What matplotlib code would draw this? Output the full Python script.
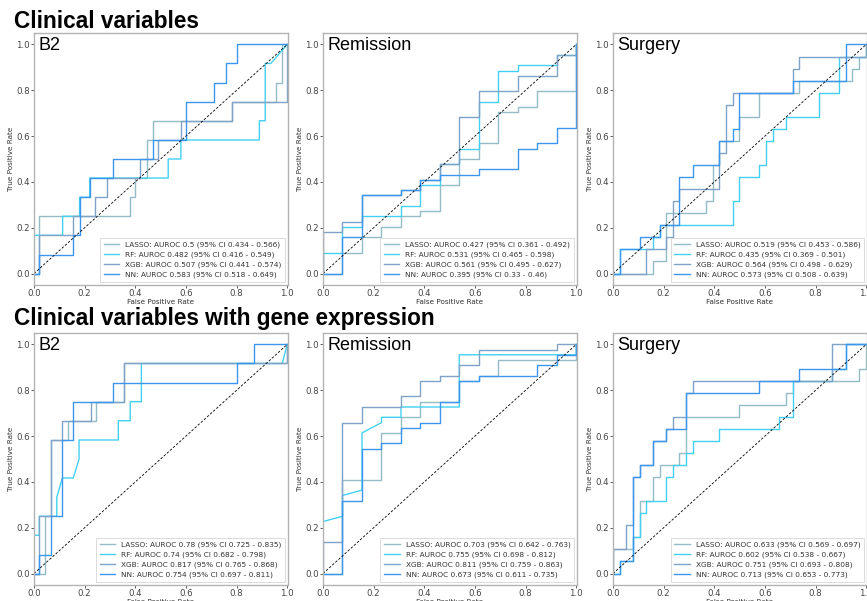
import numpy as np
import matplotlib
matplotlib.use("Agg")
import matplotlib.pyplot as plt

# ---------------------------------------------------------------------------
# ROC curve vertices (fpr, tpr) per outcome and model
# ---------------------------------------------------------------------------
models = ["LASSO", "RF", "XGB", "NN"]
outcomes = ["B2", "Remission", "Surgery"]
colors = ["#93bcc4", "#43d0f0", "#7fa3c6", "#3b96ee"]

# Clinical variables only
clin_b2_lasso = [(0, 0), (0.02, 0), (0.02, 0.25), (0.38, 0.25), (0.38, 0.333), (0.40, 0.333),
                 (0.40, 0.417), (0.445, 0.417), (0.445, 0.583), (0.47, 0.583), (0.47, 0.667),
                 (0.78, 0.667), (0.78, 0.75), (0.955, 0.75), (0.955, 0.833), (0.98, 0.833),
                 (0.98, 1.0), (1, 1)]
clin_b2_rf = [(0, 0), (0, 0.167), (0.113, 0.167), (0.113, 0.25), (0.18, 0.25), (0.18, 0.333),
              (0.22, 0.333), (0.22, 0.417), (0.53, 0.417), (0.53, 0.5), (0.58, 0.5), (0.58, 0.583),
              (0.89, 0.583), (0.89, 0.667), (0.913, 0.667), (0.913, 0.917), (0.935, 0.917), (1, 1)]
clin_b2_xgb = [(0, 0), (0.02, 0), (0.02, 0.167), (0.155, 0.167), (0.155, 0.25), (0.24, 0.25),
               (0.24, 0.333), (0.29, 0.333), (0.29, 0.417), (0.42, 0.417), (0.42, 0.5), (0.49, 0.5),
               (0.49, 0.583), (0.58, 0.583), (0.58, 0.667), (0.78, 0.667), (0.78, 0.75), (1.0, 0.75),
               (1, 1)]
clin_b2_nn = [(0, 0), (0.02, 0), (0.02, 0.083), (0.155, 0.083), (0.155, 0.167), (0.18, 0.167),
              (0.18, 0.333), (0.22, 0.333), (0.22, 0.417), (0.31, 0.417), (0.31, 0.5), (0.47, 0.5),
              (0.47, 0.583), (0.6, 0.583), (0.6, 0.75), (0.71, 0.75), (0.71, 0.833), (0.76, 0.833),
              (0.76, 0.917), (0.80, 0.917), (0.80, 1.0), (1, 1)]

clin_rem_lasso = [(0, 0), (0.077, 0), (0.077, 0.091), (0.154, 0.091), (0.154, 0.159), (0.231, 0.159),
                  (0.231, 0.205), (0.308, 0.205), (0.308, 0.25), (0.385, 0.25), (0.385, 0.273),
                  (0.462, 0.273), (0.462, 0.386), (0.538, 0.386), (0.538, 0.5), (0.615, 0.5),
                  (0.615, 0.568), (0.692, 0.568), (0.692, 0.705), (0.769, 0.705), (0.769, 0.727),
                  (0.846, 0.727), (0.846, 0.795), (1, 0.795), (1, 1)]
clin_rem_rf = [(0, 0), (0, 0.091), (0.077, 0.091), (0.077, 0.205), (0.154, 0.205), (0.154, 0.25),
               (0.308, 0.25), (0.308, 0.295), (0.385, 0.295), (0.385, 0.386), (0.462, 0.386),
               (0.462, 0.477), (0.538, 0.477), (0.538, 0.545), (0.615, 0.545), (0.615, 0.75),
               (0.692, 0.75), (0.692, 0.886), (0.769, 0.886), (0.769, 0.909), (0.923, 0.909),
               (0.923, 0.955), (1, 0.955), (1, 1)]
clin_rem_xgb = [(0, 0), (0, 0.182), (0.077, 0.182), (0.077, 0.227), (0.154, 0.227), (0.154, 0.341),
                (0.308, 0.341), (0.308, 0.364), (0.385, 0.364), (0.385, 0.409), (0.462, 0.409),
                (0.462, 0.477), (0.538, 0.477), (0.538, 0.682), (0.615, 0.682), (0.615, 0.795),
                (0.769, 0.795), (0.769, 0.864), (0.923, 0.864), (0.923, 0.955), (1, 0.955), (1, 1)]
clin_rem_nn = [(0, 0), (0.077, 0), (0.077, 0.159), (0.154, 0.159), (0.154, 0.341), (0.308, 0.341),
               (0.308, 0.364), (0.385, 0.364), (0.385, 0.409), (0.462, 0.409), (0.462, 0.432),
               (0.615, 0.432), (0.615, 0.455), (0.769, 0.455), (0.769, 0.545), (0.846, 0.545),
               (0.846, 0.568), (0.923, 0.568), (0.923, 0.636), (1, 0.636), (1, 1)]

clin_surg_lasso = [(0, 0), (0.157, 0), (0.157, 0.053), (0.21, 0.053), (0.21, 0.263), (0.367, 0.263),
                   (0.367, 0.316), (0.394, 0.316), (0.394, 0.474), (0.42, 0.474), (0.42, 0.579),
                   (0.499, 0.579), (0.499, 0.684), (0.577, 0.684), (0.577, 0.789), (0.735, 0.789),
                   (0.735, 0.842), (0.945, 0.842), (0.945, 0.895), (0.971, 0.895), (0.971, 0.947),
                   (1, 0.947), (1, 1)]
clin_surg_rf = [(0, 0), (0.026, 0), (0.026, 0.105), (0.157, 0.105), (0.157, 0.158), (0.184, 0.158),
                (0.184, 0.211), (0.472, 0.211), (0.472, 0.316), (0.499, 0.316), (0.499, 0.421),
                (0.577, 0.421), (0.577, 0.474), (0.603, 0.474), (0.603, 0.579), (0.63, 0.579),
                (0.63, 0.632), (0.682, 0.632), (0.682, 0.684), (0.813, 0.684), (0.813, 0.789),
                (0.892, 0.789), (0.892, 0.947), (1, 0.947), (1, 1)]
clin_surg_xgb = [(0, 0), (0.131, 0), (0.131, 0.105), (0.21, 0.105), (0.21, 0.158), (0.236, 0.158),
                 (0.236, 0.316), (0.262, 0.316), (0.262, 0.368), (0.42, 0.368), (0.42, 0.526),
                 (0.446, 0.526), (0.446, 0.737), (0.472, 0.737), (0.472, 0.789), (0.709, 0.789),
                 (0.709, 0.895), (0.735, 0.895), (0.735, 0.947), (1, 0.947), (1, 1)]
clin_surg_nn = [(0, 0), (0.026, 0), (0.026, 0.105), (0.105, 0.105), (0.105, 0.158), (0.184, 0.158),
                (0.184, 0.211), (0.262, 0.211), (0.262, 0.421), (0.315, 0.421), (0.315, 0.474),
                (0.42, 0.474), (0.42, 0.579), (0.472, 0.579), (0.472, 0.632), (0.499, 0.632),
                (0.499, 0.789), (0.709, 0.789), (0.709, 0.842), (0.919, 0.842), (0.919, 1.0), (1, 1)]

# Clinical variables with gene expression
gene_b2_lasso = [(0, 0), (0.045, 0), (0.045, 0.25), (0.067, 0.25), (0.067, 0.583), (0.134, 0.583),
                 (0.134, 0.667), (0.245, 0.667), (0.245, 0.75), (0.355, 0.75), (0.355, 0.917),
                 (1.0, 0.917), (1, 1)]
gene_b2_rf = [(0, 0), (0, 0.167), (0.021, 0.167), (0.021, 0.25), (0.09, 0.25), (0.09, 0.333),
              (0.112, 0.417), (0.155, 0.417), (0.178, 0.5), (0.178, 0.583), (0.333, 0.583),
              (0.333, 0.667), (0.38, 0.667), (0.38, 0.75), (0.424, 0.75), (0.424, 0.917),
              (0.98, 0.917), (1.0, 1.0)]
gene_b2_xgb = [(0, 0), (0.021, 0), (0.021, 0.25), (0.067, 0.25), (0.067, 0.583), (0.112, 0.583),
               (0.112, 0.667), (0.224, 0.667), (0.224, 0.75), (0.355, 0.75), (0.355, 0.917),
               (1, 0.917), (1, 1)]
gene_b2_nn = [(0, 0), (0.021, 0), (0.021, 0.083), (0.067, 0.083), (0.067, 0.25), (0.112, 0.25),
              (0.112, 0.583), (0.155, 0.583), (0.155, 0.75), (0.313, 0.75), (0.313, 0.833),
              (0.80, 0.833), (0.80, 0.917), (0.868, 0.917), (0.868, 1.0), (1, 1)]

gene_rem_lasso = [(0, 0), (0.077, 0), (0.077, 0.409), (0.231, 0.409), (0.231, 0.614), (0.308, 0.614),
                  (0.308, 0.682), (0.385, 0.682), (0.385, 0.75), (0.538, 0.75), (0.538, 0.841),
                  (0.615, 0.841), (0.615, 0.864), (0.692, 0.864), (0.692, 0.932), (1, 0.932), (1, 1)]
gene_rem_rf = [(0, 0), (0, 0.227), (0.077, 0.25), (0.077, 0.341), (0.154, 0.364), (0.154, 0.614),
               (0.231, 0.659), (0.231, 0.682), (0.308, 0.682), (0.308, 0.727), (0.538, 0.727),
               (0.538, 0.955), (1, 0.955), (1, 1)]
gene_rem_xgb = [(0, 0), (0, 0.136), (0.077, 0.136), (0.077, 0.659), (0.154, 0.659), (0.154, 0.727),
                (0.308, 0.727), (0.308, 0.773), (0.385, 0.773), (0.385, 0.841), (0.462, 0.841),
                (0.462, 0.864), (0.538, 0.864), (0.538, 0.909), (0.615, 0.909), (0.615, 0.977),
                (0.923, 0.977), (0.923, 1.0), (1, 1)]
gene_rem_nn = [(0, 0), (0.077, 0), (0.077, 0.318), (0.154, 0.318), (0.154, 0.545), (0.231, 0.545),
               (0.231, 0.568), (0.308, 0.568), (0.308, 0.636), (0.385, 0.636), (0.385, 0.659),
               (0.462, 0.659), (0.462, 0.75), (0.538, 0.75), (0.538, 0.841), (0.615, 0.841),
               (0.615, 0.864), (0.846, 0.864), (0.846, 0.909), (0.923, 0.909), (0.923, 0.955),
               (1, 0.955), (1, 1)]

gene_surg_lasso = [(0, 0), (0, 0.105), (0.079, 0.105), (0.079, 0.158), (0.105, 0.158), (0.105, 0.316),
                   (0.157, 0.316), (0.157, 0.421), (0.184, 0.421), (0.184, 0.474), (0.262, 0.474),
                   (0.262, 0.526), (0.289, 0.526), (0.289, 0.684), (0.499, 0.684), (0.499, 0.737),
                   (0.682, 0.737), (0.682, 0.789), (0.709, 0.789), (0.709, 0.842), (0.971, 0.842),
                   (0.971, 0.895), (1, 0.895), (1, 1)]
gene_surg_rf = [(0, 0), (0.026, 0), (0.026, 0.053), (0.079, 0.053), (0.079, 0.158), (0.105, 0.158),
                (0.105, 0.263), (0.131, 0.263), (0.131, 0.316), (0.21, 0.316), (0.21, 0.421),
                (0.236, 0.421), (0.236, 0.474), (0.289, 0.474), (0.289, 0.526), (0.315, 0.526),
                (0.315, 0.579), (0.42, 0.579), (0.42, 0.632), (0.656, 0.632), (0.656, 0.684),
                (0.709, 0.684), (0.709, 0.842), (0.866, 0.842), (0.866, 0.895), (0.919, 0.895),
                (0.919, 1.0), (1, 1)]
gene_surg_xgb = [(0, 0), (0, 0.105), (0.052, 0.105), (0.052, 0.211), (0.079, 0.211), (0.079, 0.421),
                 (0.105, 0.421), (0.105, 0.474), (0.157, 0.474), (0.157, 0.579), (0.21, 0.579),
                 (0.21, 0.632), (0.236, 0.632), (0.236, 0.684), (0.289, 0.684), (0.289, 0.789),
                 (0.315, 0.789), (0.315, 0.842), (0.866, 0.842), (0.866, 1.0), (1, 1)]
gene_surg_nn = [(0, 0), (0.026, 0), (0.026, 0.053), (0.079, 0.053), (0.079, 0.421), (0.105, 0.421),
                (0.105, 0.474), (0.157, 0.474), (0.157, 0.579), (0.21, 0.579), (0.21, 0.632),
                (0.289, 0.632), (0.289, 0.789), (0.577, 0.789), (0.577, 0.842), (0.735, 0.842),
                (0.735, 0.895), (0.919, 0.895), (0.919, 1.0), (1, 1)]

# AUROC and 95% CI for each model (order: LASSO, RF, XGB, NN)
clin_b2_auc = [0.5, 0.482, 0.507, 0.583]
clin_b2_lo = [0.434, 0.416, 0.441, 0.518]
clin_b2_hi = [0.566, 0.549, 0.574, 0.649]
clin_rem_auc = [0.427, 0.531, 0.561, 0.395]
clin_rem_lo = [0.361, 0.465, 0.495, 0.33]
clin_rem_hi = [0.492, 0.598, 0.627, 0.46]
clin_surg_auc = [0.519, 0.435, 0.564, 0.573]
clin_surg_lo = [0.453, 0.369, 0.498, 0.508]
clin_surg_hi = [0.586, 0.501, 0.629, 0.639]
gene_b2_auc = [0.78, 0.74, 0.817, 0.754]
gene_b2_lo = [0.725, 0.682, 0.765, 0.697]
gene_b2_hi = [0.835, 0.798, 0.868, 0.811]
gene_rem_auc = [0.703, 0.755, 0.811, 0.673]
gene_rem_lo = [0.642, 0.698, 0.759, 0.611]
gene_rem_hi = [0.763, 0.812, 0.863, 0.735]
gene_surg_auc = [0.633, 0.602, 0.751, 0.713]
gene_surg_lo = [0.569, 0.538, 0.693, 0.653]
gene_surg_hi = [0.697, 0.667, 0.808, 0.773]

rows = [
    ("Clinical variables", [
        ([clin_b2_lasso, clin_b2_rf, clin_b2_xgb, clin_b2_nn], clin_b2_auc, clin_b2_lo, clin_b2_hi),
        ([clin_rem_lasso, clin_rem_rf, clin_rem_xgb, clin_rem_nn], clin_rem_auc, clin_rem_lo, clin_rem_hi),
        ([clin_surg_lasso, clin_surg_rf, clin_surg_xgb, clin_surg_nn], clin_surg_auc, clin_surg_lo, clin_surg_hi),
    ]),
    ("Clinical variables with gene expression", [
        ([gene_b2_lasso, gene_b2_rf, gene_b2_xgb, gene_b2_nn], gene_b2_auc, gene_b2_lo, gene_b2_hi),
        ([gene_rem_lasso, gene_rem_rf, gene_rem_xgb, gene_rem_nn], gene_rem_auc, gene_rem_lo, gene_rem_hi),
        ([gene_surg_lasso, gene_surg_rf, gene_surg_xgb, gene_surg_nn], gene_surg_auc, gene_surg_lo, gene_surg_hi),
    ]),
]

# ---------------------------------------------------------------------------
# Layout
# ---------------------------------------------------------------------------
W, H = 867, 601
fig = plt.figure(figsize=(W / 100, H / 100), dpi=100)
fig.patch.set_facecolor("white")

ax_lefts = [34, 323, 613]
ax_tops = [33, 333]
ax_w, ax_h = 254, 252
title_y = [21, 318]
spine_col = "#b3b3b3"

for r, (row_title, panels) in enumerate(rows):
    fig.text(14 / W, 1 - title_y[r] / H, row_title, fontsize=16.3, fontweight="bold",
             family="Liberation Sans", ha="left", va="center", color="black")
    for c, (curves, auc, lo, hi) in enumerate(panels):
        left = ax_lefts[c] / W
        bottom = 1 - (ax_tops[r] + ax_h) / H
        ax = fig.add_axes([left, bottom, ax_w / W, ax_h / H])
        for m, pts in enumerate(curves):
            arr = np.array(pts, dtype=float)
            ax.plot(arr[:, 0], arr[:, 1], color=colors[m], lw=1.0,
                    label=f"{models[m]}: AUROC {auc[m]} (95% CI {lo[m]} - {hi[m]})")
        ax.plot([0, 1], [0, 1], color="black", lw=0.6, ls=(0, (3, 2)))
        ax.set_xlim(0, 1.003)
        ax.set_ylim(-0.05, 1.05)
        ax.set_xticks([0, 0.2, 0.4, 0.6, 0.8, 1.0])
        ax.set_yticks([0, 0.2, 0.4, 0.6, 0.8, 1.0])
        ax.set_xticklabels(["0.0", "0.2", "0.4", "0.6", "0.8", "1.0"])
        ax.set_yticklabels(["0.0", "0.2", "0.4", "0.6", "0.8", "1.0"])
        ax.tick_params(labelsize=6.2, colors="#444444", length=2.0, width=0.6, pad=0.8)
        for s in ax.spines.values():
            s.set_color(spine_col)
            s.set_linewidth(1.0)
        ax.set_xlabel("False Positive Rate", fontsize=5.2, color="#333333", labelpad=0.5)
        ax.set_ylabel("True Positive Rate", fontsize=5.2, color="#333333", labelpad=1.5)
        ax.text(0.018, 0.985, outcomes[c], transform=ax.transAxes, fontsize=13,
                family="Liberation Sans", ha="left", va="top", color="black")
        leg = ax.legend(loc="lower right", fontsize=5.3, frameon=True, handlelength=2.1,
                        borderpad=0.5, labelspacing=0.45, handletextpad=0.8,
                        borderaxespad=0.4, fancybox=False)
        leg.get_frame().set_edgecolor("#cccccc")
        leg.get_frame().set_linewidth(0.6)
        for t in leg.get_texts():
            t.set_color("#333333")

fig.savefig("out.png", dpi=100, facecolor="white")
